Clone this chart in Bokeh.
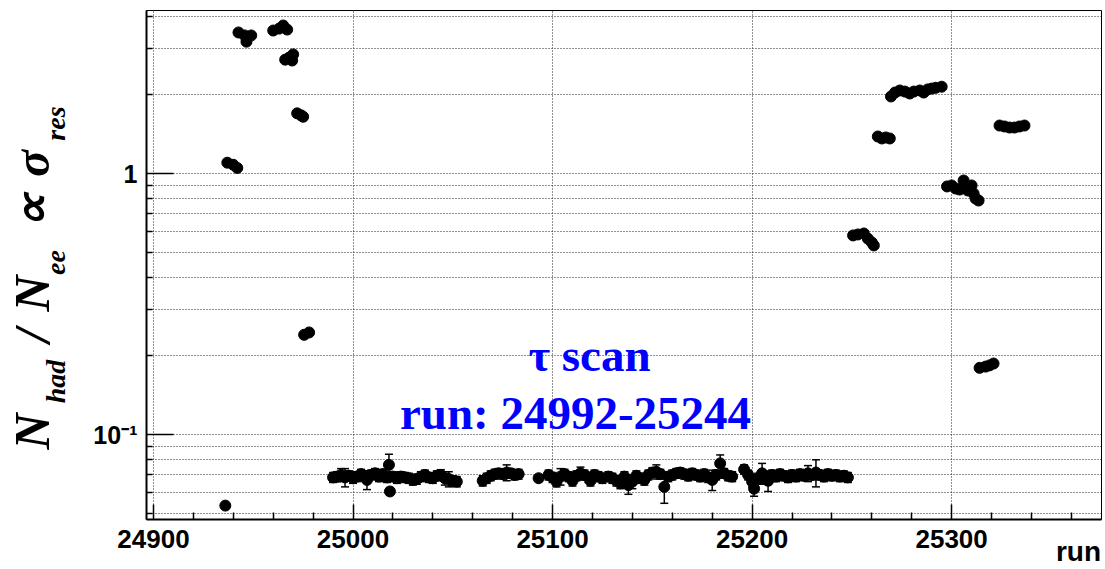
import numpy as np
from bokeh.plotting import figure
from bokeh.models import (Range1d, FixedTicker, CustomJSTickFormatter, Whisker,
                          TeeHead, ColumnDataSource, Label, LinearAxis)
from bokeh.embed import file_html
from bokeh.resources import INLINE

# ---------------- data ----------------
# tau-scan band (runs 24990 - 25248)
runs_low = [24990, 24992, 24994, 24996, 24998, 25000, 25002, 25004, 25006, 25007,
            25009, 25011, 25013, 25015, 25017, 25018, 25018.5, 25020, 25022, 25024,
            25026, 25028, 25030, 25032, 25034, 25036, 25038, 25040, 25042, 25044,
            25046, 25048, 25050, 25052,
            25065, 25067, 25069, 25071, 25073, 25075, 25077, 25079, 25081, 25083,
            25093,
            25098, 25100, 25102, 25104, 25106, 25108, 25110, 25112, 25114, 25116,
            25118, 25119, 25121, 25123, 25125,
            25128, 25130, 25132, 25134, 25136, 25138, 25140, 25142, 25144, 25146,
            25148, 25150, 25152, 25154, 25156, 25158, 25160, 25162, 25164, 25166,
            25168, 25170, 25172, 25174, 25176, 25178, 25180, 25182, 25184, 25186,
            25188, 25190,
            25196, 25198, 25200, 25201, 25203, 25205, 25207, 25208, 25210, 25212,
            25214, 25216, 25218, 25220, 25222, 25224, 25226, 25228, 25230, 25232,
            25234, 25236, 25238, 25240, 25242, 25244, 25246, 25248]
ratio_low = [0.0685, 0.0690, 0.0700, 0.0685, 0.0695, 0.0680, 0.0690, 0.0705, 0.0695, 0.0670,
             0.0700, 0.0710, 0.0690, 0.0705, 0.0685, 0.0765, 0.0605, 0.0690, 0.0680, 0.0690,
             0.0685, 0.0680, 0.0670, 0.0675, 0.0690, 0.0700, 0.0685, 0.0680, 0.0695, 0.0700,
             0.0680, 0.0675, 0.0665, 0.0660,
             0.0665, 0.0680, 0.0695, 0.0705, 0.0710, 0.0705, 0.0715, 0.0710, 0.0700, 0.0705,
             0.0680,
             0.0700, 0.0685, 0.0660, 0.0690, 0.0705, 0.0690, 0.0665, 0.0695, 0.0710, 0.0700,
             0.0685, 0.0665, 0.0700, 0.0690, 0.0680,
             0.0690, 0.0680, 0.0665, 0.0650, 0.0690, 0.0640, 0.0660, 0.0695, 0.0680, 0.0670,
             0.0700, 0.0715, 0.0720, 0.0705, 0.0630, 0.0690, 0.0700, 0.0710, 0.0715, 0.0705,
             0.0695, 0.0710, 0.0700, 0.0690, 0.0705, 0.0685, 0.0670, 0.0700, 0.0775, 0.0710,
             0.0695, 0.0690,
             0.0735, 0.0700, 0.0660, 0.0620, 0.0680, 0.0710, 0.0690, 0.0665, 0.0700, 0.0690,
             0.0705, 0.0695, 0.0685, 0.0700, 0.0690, 0.0705, 0.0695, 0.0710, 0.0700, 0.0715,
             0.0700, 0.0690, 0.0705, 0.0695, 0.0700, 0.0690, 0.0695, 0.0685]
err_low = [0.0030, 0.0030, 0.0040, 0.0055, 0.0030, 0.0030, 0.0030, 0.0030, 0.0030, 0.0055,
           0.0030, 0.0030, 0.0030, 0.0030, 0.0030, 0.0075, 0.0020, 0.0030, 0.0030, 0.0030,
           0.0030, 0.0030, 0.0030, 0.0030, 0.0030, 0.0030, 0.0030, 0.0030, 0.0030, 0.0033,
           0.0040, 0.0045, 0.0030, 0.0030,
           0.0030, 0.0030, 0.0030, 0.0030, 0.0030, 0.0030, 0.0050, 0.0030, 0.0030, 0.0030,
           0.0020,
           0.0030, 0.0030, 0.0030, 0.0050, 0.0030, 0.0030, 0.0030, 0.0030, 0.0040, 0.0030,
           0.0030, 0.0030, 0.0030, 0.0030, 0.0030,
           0.0030, 0.0030, 0.0030, 0.0030, 0.0030, 0.0050, 0.0040, 0.0030, 0.0030, 0.0030,
           0.0030, 0.0030, 0.0045, 0.0030, 0.0085, 0.0030, 0.0030, 0.0030, 0.0030, 0.0030,
           0.0030, 0.0030, 0.0030, 0.0030, 0.0030, 0.0030, 0.0060, 0.0030, 0.0060, 0.0030,
           0.0030, 0.0030,
           0.0030, 0.0030, 0.0030, 0.0040, 0.0030, 0.0065, 0.0030, 0.0060, 0.0030, 0.0030,
           0.0030, 0.0030, 0.0030, 0.0030, 0.0030, 0.0030, 0.0030, 0.0050, 0.0030, 0.0085,
           0.0030, 0.0030, 0.0030, 0.0030, 0.0030, 0.0030, 0.0030, 0.0030]

# resonance / off-band runs
runs_high = [24936,
             24937, 24940, 24942,
             24942.6, 24945.7, 24946.6, 24949,
             24960, 24963, 24965, 24967,
             24966, 24968, 24970, 24969.5,
             24972, 24974, 24975,
             24975.5, 24978,
             25250.6, 25253, 25256, 25258, 25260, 25261,
             25263, 25265, 25267, 25269,
             25269.6, 25271.6, 25274, 25276.6, 25279, 25281, 25284, 25286, 25288, 25290,
             25292, 25295,
             25297.7, 25300, 25302, 25304, 25306, 25308, 25310, 25311, 25312, 25313.5,
             25314, 25317, 25319, 25321,
             25324, 25326.5, 25329, 25331.5, 25334, 25336.5]
ratio_high = [0.0534,
              1.10, 1.08, 1.05,
              3.47, 3.38, 3.20, 3.38,
              3.53, 3.59, 3.69, 3.56,
              2.73, 2.78, 2.86, 2.71,
              1.70, 1.67, 1.65,
              0.241, 0.246,
              0.579, 0.584, 0.589, 0.563, 0.544, 0.530,
              1.386, 1.362, 1.374, 1.362,
              1.973, 2.043, 2.080, 2.060, 2.025, 2.060, 2.080, 2.043, 2.100, 2.115,
              2.130, 2.150,
              0.892, 0.900, 0.876, 0.868, 0.940, 0.861, 0.900, 0.838, 0.802, 0.788,
              0.180, 0.182, 0.184, 0.187,
              1.527, 1.514, 1.500, 1.500, 1.514, 1.527]
err_high = [0.0008,
            0.015, 0.015, 0.015,
            0.05, 0.05, 0.05, 0.05,
            0.05, 0.05, 0.05, 0.05,
            0.04, 0.04, 0.04, 0.04,
            0.025, 0.025, 0.025,
            0.004, 0.004,
            0.009, 0.009, 0.009, 0.009, 0.009, 0.009,
            0.02, 0.02, 0.02, 0.02,
            0.03, 0.03, 0.03, 0.03, 0.03, 0.03, 0.03, 0.03, 0.03, 0.03,
            0.03, 0.03,
            0.013, 0.013, 0.013, 0.013, 0.013, 0.013, 0.02, 0.013, 0.013, 0.013,
            0.003, 0.003, 0.003, 0.003,
            0.022, 0.022, 0.022, 0.022, 0.022, 0.022]

x_major = [24900, 25000, 25100, 25200, 25300]
x_minor = [24920, 24940, 24960, 24980, 25020, 25040, 25060, 25080, 25120, 25140,
           25160, 25180, 25220, 25240, 25260, 25280, 25320, 25340, 25360]
y_major = [0.1, 1.0]
y_minor = [0.05, 0.06, 0.07, 0.08, 0.09, 0.2, 0.3, 0.4, 0.5, 0.6, 0.7, 0.8, 0.9,
           2.0, 3.0, 4.0]

# axis-title pieces (text, vertical centre in px from the top)
title_main = [("N", 431), ("/", 335), ("N", 293), ("\u221d", 210), ("\u03c3", 163)]
title_sub = [("had", 381), ("ee", 262), ("res", 123)]

# ---------------- layout helpers ----------------
X0, X1 = 24896.5, 25375.1
FRAME_L, FRAME_W = 146, 955           # canvas px
def xd(px):
    return X0 + (px - FRAME_L) * (X1 - X0) / FRAME_W
def yd(py):
    return 10 ** ((173.0 - py) / 261.0)

p = figure(width=1105, height=569, y_axis_type="log",
           x_range=Range1d(X0, X1), y_range=Range1d(yd(519), yd(10)),
           output_backend="svg", toolbar_location=None,
           min_border_left=146, min_border_right=4, min_border_top=10,
           min_border_bottom=50)
p.background_fill_color = "white"
p.border_fill_color = "white"
p.outline_line_color = "black"
p.outline_line_width = 1

# axes
xax = p.xaxis[0]
yax = p.yaxis[0]
xax.ticker = FixedTicker(ticks=x_major, minor_ticks=x_minor)
yax.ticker = FixedTicker(ticks=y_major, minor_ticks=y_minor)
yax.formatter = CustomJSTickFormatter(code="return tick < 0.5 ? '10\u207b\u00b9' : '1';")
for ax in (xax, yax):
    ax.axis_line_width = 2
    ax.axis_line_color = "black"
    ax.major_tick_line_color = "black"
    ax.minor_tick_line_color = "black"
    ax.major_tick_line_width = 1.5
    ax.minor_tick_line_width = 1.5
    ax.major_tick_out = 0
    ax.minor_tick_out = 0
    ax.major_label_text_font = "Liberation Sans"
    ax.major_label_text_font_style = "bold"
    ax.major_label_text_color = "black"
    ax.major_label_text_font_size = "25px"
xax.major_label_text_font_size = "26px"
xax.major_tick_in = 15
xax.minor_tick_in = 7
xax.major_label_standoff = 10
yax.major_tick_in = 27
yax.minor_tick_in = 6
yax.major_label_standoff = 9

# grids (dotted)
p.xgrid.grid_line_color = "#222222"
p.xgrid.grid_line_dash = "1 2"
p.xgrid.grid_line_width = 1
p.ygrid.grid_line_color = "#222222"
p.ygrid.grid_line_dash = "1 2"
p.ygrid.grid_line_width = 1
p.ygrid.minor_grid_line_color = "#222222"
p.ygrid.minor_grid_line_dash = "1 2"
p.ygrid.minor_grid_line_width = 1

def text_axis(positions, labels, font, style, size, standoff, orientation):
    ax = LinearAxis(ticker=FixedTicker(ticks=positions),
                    formatter=CustomJSTickFormatter(
                        args=dict(labels=labels, pos=positions),
                        code="let i = pos.indexOf(tick); if (i < 0) { i = index; } return labels[i];"),
                    major_label_orientation=orientation,
                    axis_line_color=None, major_tick_line_color=None,
                    minor_tick_line_color=None, major_tick_in=0, major_tick_out=0,
                    minor_tick_in=0, minor_tick_out=0,
                    major_label_standoff=standoff,
                    major_label_text_font=font,
                    major_label_text_font_style=style,
                    major_label_text_font_size=size,
                    major_label_text_color="black")
    return ax

# y-axis title: subscripts (closer to the frame), then the main symbols
p.add_layout(text_axis([yd(c) for _, c in title_sub], [t for t, _ in title_sub],
                       "Liberation Serif", "bold italic", "28px", 20, "vertical"), "left")
p.add_layout(text_axis([yd(c) for _, c in title_main], [t for t, _ in title_main],
                       "Liberation Serif", "bold italic", "50px", -23, "vertical"), "left")
# x-axis title "run" at the right end
p.add_layout(text_axis([xd(1078)], ["run"], "Liberation Sans", "bold", "28px", -15,
                       "horizontal"), "below")

# data
for runs, ratio, err in ((runs_low, ratio_low, err_low), (runs_high, ratio_high, err_high)):
    src = ColumnDataSource(dict(
        run=runs, ratio=ratio,
        lo=[r - e for r, e in zip(ratio, err)],
        hi=[r + e for r, e in zip(ratio, err)]))
    p.add_layout(Whisker(base="run", lower="lo", upper="hi", source=src,
                         dimension="height", line_color="black", line_width=1.5,
                         upper_head=TeeHead(size=8, line_color="black", line_width=1.5),
                         lower_head=TeeHead(size=8, line_color="black", line_width=1.5)))
    p.scatter("run", "ratio", source=src, size=11, marker="circle",
              fill_color="black", line_color="black")

# blue annotation
p.add_layout(Label(x=xd(589), y=yd(354), text="\u03c4 scan", text_align="center",
                   text_baseline="alphabetic", text_font="Liberation Serif",
                   text_font_style="bold", text_font_size="47px", text_color="#0000ff"))
p.add_layout(Label(x=xd(575), y=yd(412), text="run: 24992-25244", text_align="center",
                   text_baseline="alphabetic", text_font="Liberation Serif",
                   text_font_style="bold", text_font_size="47px", text_color="#0000ff"))

with open("out.html", "w", encoding="utf-8") as f:
    f.write(file_html(p, INLINE))
